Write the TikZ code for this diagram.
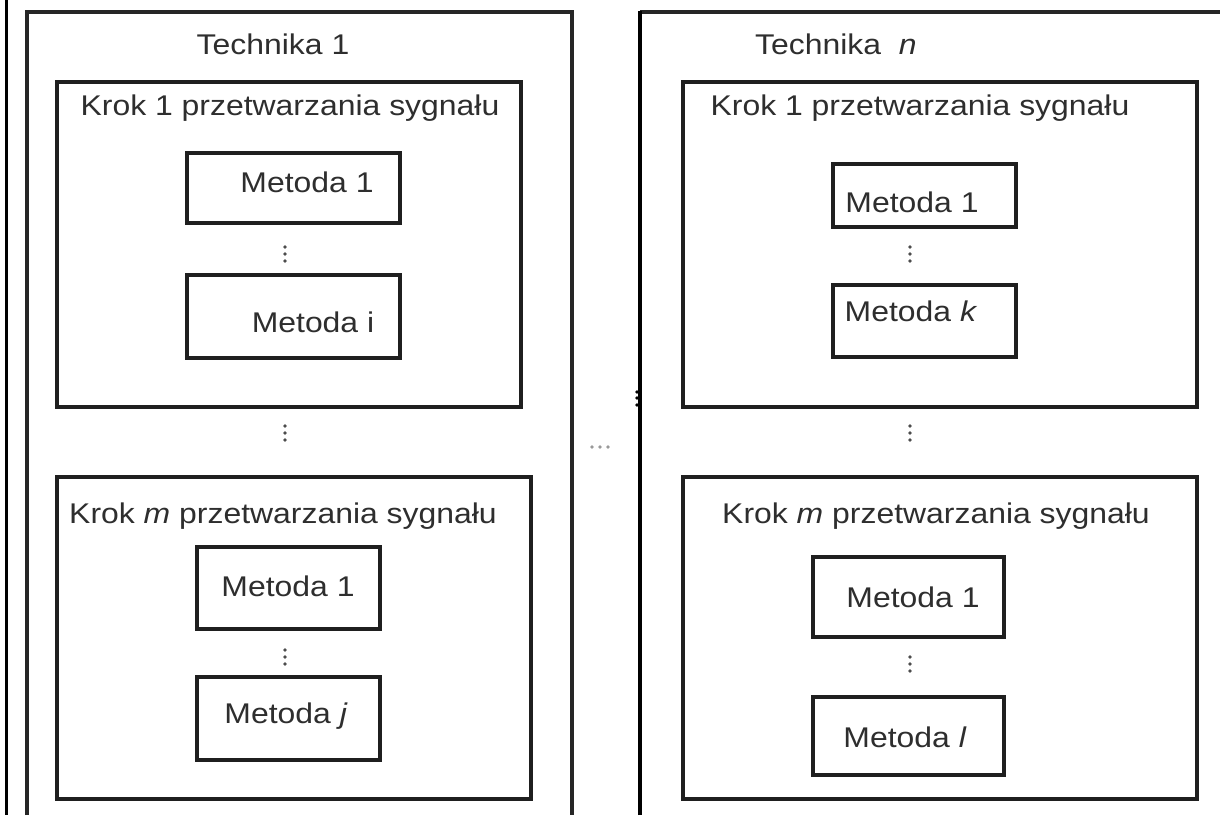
\documentclass[tikz,border=0pt]{standalone}
\usepackage{fontspec}
\setmainfont{Liberation Sans}[FakeStretch=1.12]
\begin{document}
\begin{tikzpicture}[x=1pt,y=-1pt,
  frame/.style={draw=black!85,line width=3.1pt},
  box/.style={draw=black!88,line width=3.1pt,rectangle,inner sep=0pt,outer sep=0pt,anchor=north west},
  lbl/.style={inner sep=0pt,font=\fontsize{28.5}{32}\selectfont,text=black!82},
  dot/.style={fill=black!70,draw=none,circle,inner sep=0pt,minimum size=3.6pt},
  gdot/.style={fill=black!40,draw=none,circle,inner sep=0pt,minimum size=3.8pt}]
\useasboundingbox (0,0) rectangle (1220,815);
\fill[white] (0,0) rectangle (1220,815);

% margin rule at the far left
\draw[line width=3pt,black] (6,0) -- (6,815);

% outer frames of the two techniques (open at the bottom / right)
\draw[frame] (27,815) -- (27,12) -- (572,12) -- (572,815);
\draw[frame] (640,12) -- (1222,12);
\draw[frame,draw=black,line width=4pt] (640,815) -- (640,10.5);

\node[lbl] (tech1) at (273,44) {Technika 1};
\node[lbl,anchor=west] (techn) at (755,44) {Technika \ \textit{n}};

% ---- Technika 1, step 1
\node[box,minimum width=464pt,minimum height=325pt] (L1) at (57,82) {};
\node[lbl] (L1t) at (290,108) {Krok 1 przetwarzania sygnału};
\node[box,minimum width=213pt,minimum height=70pt] (L1a) at (187,153) {};
\node[lbl] (L1at) at (307,182) {Metoda 1};
\node[box,minimum width=213pt,minimum height=83pt] (L1b) at (187,275) {};
\node[lbl] (L1bt) at (313,322) {Metoda i};
\foreach \yy in {247,254,261} \node[dot] at (285,\yy) {};

% between steps
\foreach \yy in {426,433,440} \node[dot] at (285,\yy) {};

% ---- Technika 1, step m
\node[box,minimum width=474pt,minimum height=322pt] (Lm) at (57,477) {};
\node[lbl] (Lmt) at (283,516) {Krok \textit{m} przetwarzania sygnału};
\node[box,minimum width=183pt,minimum height=82pt] (Lma) at (197,547) {};
\node[lbl] (Lmat) at (288,586) {Metoda 1};
\node[box,minimum width=183pt,minimum height=83pt] (Lmb) at (197,677) {};
\node[lbl] (Lmbt) at (286,716) {Metoda \textit{j}};
\foreach \yy in {650,657,664} \node[dot] at (285,\yy) {};

% dots between the techniques
\foreach \xx in {592,600,608} \node[gdot] at (\xx,447) {};
\foreach \yy in {392,398,405} \node[dot,fill=black] at (637,\yy) {};

% ---- Technika n, step 1
\node[box,minimum width=514pt,minimum height=325pt] (R1) at (683,82) {};
\node[lbl] (R1t) at (920,108) {Krok 1 przetwarzania sygnału};
\node[box,minimum width=183pt,minimum height=63pt] (R1a) at (833,164) {};
\node[lbl] (R1at) at (912,202) {Metoda 1};
\node[box,minimum width=183pt,minimum height=72pt] (R1b) at (833,285) {};
\node[lbl] (R1bt) at (911,311) {Metoda \textit{k}};
\foreach \yy in {247,254,261} \node[dot] at (910,\yy) {};

% between steps
\foreach \yy in {426,433,440} \node[dot] at (910,\yy) {};

% ---- Technika n, step m
\node[box,minimum width=514pt,minimum height=322pt] (Rm) at (683,477) {};
\node[lbl] (Rmt) at (936,516) {Krok \textit{m} przetwarzania sygnału};
\node[box,minimum width=191pt,minimum height=80pt] (Rma) at (813,557) {};
\node[lbl] (Rmat) at (913,597) {Metoda 1};
\node[box,minimum width=191pt,minimum height=78pt] (Rmb) at (813,697) {};
\node[lbl] (Rmbt) at (905,737) {Metoda \textit{l}};
\foreach \yy in {657,664,671} \node[dot] at (910,\yy) {};
\end{tikzpicture}
\end{document}
